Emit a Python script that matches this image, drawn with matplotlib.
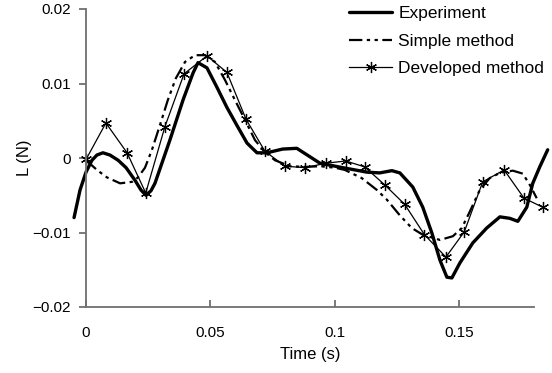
import matplotlib
matplotlib.use("Agg")
import matplotlib.pyplot as plt

plt.rcParams['font.family'] = ['Liberation Sans', 'DejaVu Sans']

# Experiment (thick solid)
exp_t = [-0.0048, -0.0024, 0.0, 0.0024, 0.0044, 0.0068, 0.0096, 0.0129, 0.0161, 0.0197,
         0.0221, 0.0241, 0.0261, 0.0277, 0.0337, 0.039, 0.043, 0.045, 0.0486, 0.0526,
         0.0566, 0.0606, 0.0647, 0.0687, 0.0727, 0.079, 0.0847, 0.094, 0.1032, 0.1129,
         0.118, 0.1229, 0.1261, 0.1313, 0.1353, 0.139, 0.1422, 0.145, 0.147, 0.1502,
         0.1554, 0.161, 0.1663, 0.1703, 0.1735, 0.1771, 0.1795, 0.1823, 0.1855]
exp_l = [-0.008, -0.0043, -0.0019, -0.0003, 0.0004, 0.0007, 0.0004, -0.0003, -0.0013, -0.003,
         -0.0043, -0.005, -0.0044, -0.0034, 0.0024, 0.0078, 0.0114, 0.0128, 0.0121, 0.0095,
         0.0068, 0.0044, 0.002, 0.0007, 0.0007, 0.0012, 0.0013, -0.0007, -0.0013, -0.0019,
         -0.002, -0.0017, -0.002, -0.0039, -0.0066, -0.0101, -0.0137, -0.016, -0.0161, -0.0141,
         -0.0114, -0.0094, -0.0079, -0.0081, -0.0085, -0.0066, -0.0034, -0.0012, 0.0011]

# Simple method (dash-dot)
sim_t = [0.0, 0.0044, 0.0084, 0.0137, 0.0185, 0.0209, 0.0237, 0.0265, 0.0297, 0.0329,
         0.0361, 0.0398, 0.0438, 0.0478, 0.0518, 0.0558, 0.0598, 0.0639, 0.0679, 0.0719,
         0.0759, 0.0819, 0.088, 0.094, 0.1, 0.104, 0.1108, 0.1169, 0.1209, 0.1261,
         0.1309, 0.1353, 0.1422, 0.1474, 0.151, 0.1542, 0.1582, 0.1622, 0.1663, 0.1715,
         0.1755, 0.1783, 0.1811]
sim_l = [-0.0003, -0.0016, -0.0026, -0.0034, -0.0032, -0.0026, -0.0013, 0.0011, 0.0044, 0.0078,
         0.0107, 0.0129, 0.0138, 0.0138, 0.0129, 0.0105, 0.0078, 0.0051, 0.0024, 0.0008,
         -0.0003, -0.0011, -0.0012, -0.0011, -0.0013, -0.0016, -0.0027, -0.0043, -0.0056, -0.0077,
         -0.0094, -0.0103, -0.011, -0.0105, -0.0094, -0.0072, -0.0043, -0.0027, -0.002, -0.0017,
         -0.0021, -0.0036, -0.0054]

# Developed method (thin line with asterisks)
dev_t = [0.0, 0.008, 0.0165, 0.024, 0.0317, 0.0394, 0.0486, 0.0566, 0.0643, 0.0719,
         0.080, 0.088, 0.0964, 0.1044, 0.112, 0.120, 0.128, 0.136, 0.1446, 0.152,
         0.1594, 0.168, 0.176, 0.1835]
dev_l = [-0.0002, 0.0047, 0.0007, -0.0047, 0.0042, 0.0113, 0.0137, 0.0115, 0.0052, 0.0009,
         -0.0011, -0.0013, -0.0007, -0.0004, -0.0012, -0.0036, -0.0062, -0.0103, -0.0133, -0.0099,
         -0.0032, -0.0016, -0.0054, -0.0066]

fig = plt.figure(figsize=(5.52, 3.73), dpi=100)
ax = fig.add_axes([86 / 552, 1 - 307 / 373, (534 - 86) / 552, (307 - 9) / 373])

ax.plot(exp_t, exp_l, color='black', lw=2.4, label='Experiment', clip_on=False,
        solid_joinstyle='round', solid_capstyle='round')
ax.plot(sim_t, sim_l, color='black', lw=1.6, linestyle=(0, (6, 2, 1.5, 2, 1.5, 2)),
        label='Simple method', clip_on=False)
ax.plot(dev_t, dev_l, color='black', lw=0.9, marker=(6, 2, 0), markersize=8,
        markeredgewidth=0.9, label='Developed method', clip_on=False)

ax.set_xlim(0, 0.18)
ax.set_ylim(-0.02, 0.02)
ax.set_xticks([0, 0.05, 0.1, 0.15])
ax.set_xticklabels(['0', '0.05', '0.1', '0.15'])
ax.set_yticks([-0.02, -0.01, 0, 0.01, 0.02])
ax.set_yticklabels(['\u22120.02', '\u22120.01', '0', '0.01', '0.02'])

for s in ['top', 'right']:
    ax.spines[s].set_visible(False)
for s in ['left', 'bottom']:
    ax.spines[s].set_color('#707070')
    ax.spines[s].set_linewidth(1.3)
ax.tick_params(axis='x', direction='in', length=5, width=1.3, color='#707070', pad=14, labelsize=11)
ax.tick_params(axis='y', direction='out', length=5, width=1.3, color='#707070', pad=6, labelsize=11)

ax.set_xlabel('Time (s)', fontsize=12, labelpad=5)
ax.set_ylabel('L (N)', fontsize=12, labelpad=0)

ax.legend(loc='upper right', bbox_to_anchor=(552 / 552, 1.005), bbox_transform=fig.transFigure,
          frameon=False, fontsize=12.5, handlelength=2.5, labelspacing=0.72, borderaxespad=0.05,
          handletextpad=0.35)

fig.savefig('out.png', dpi=100)
